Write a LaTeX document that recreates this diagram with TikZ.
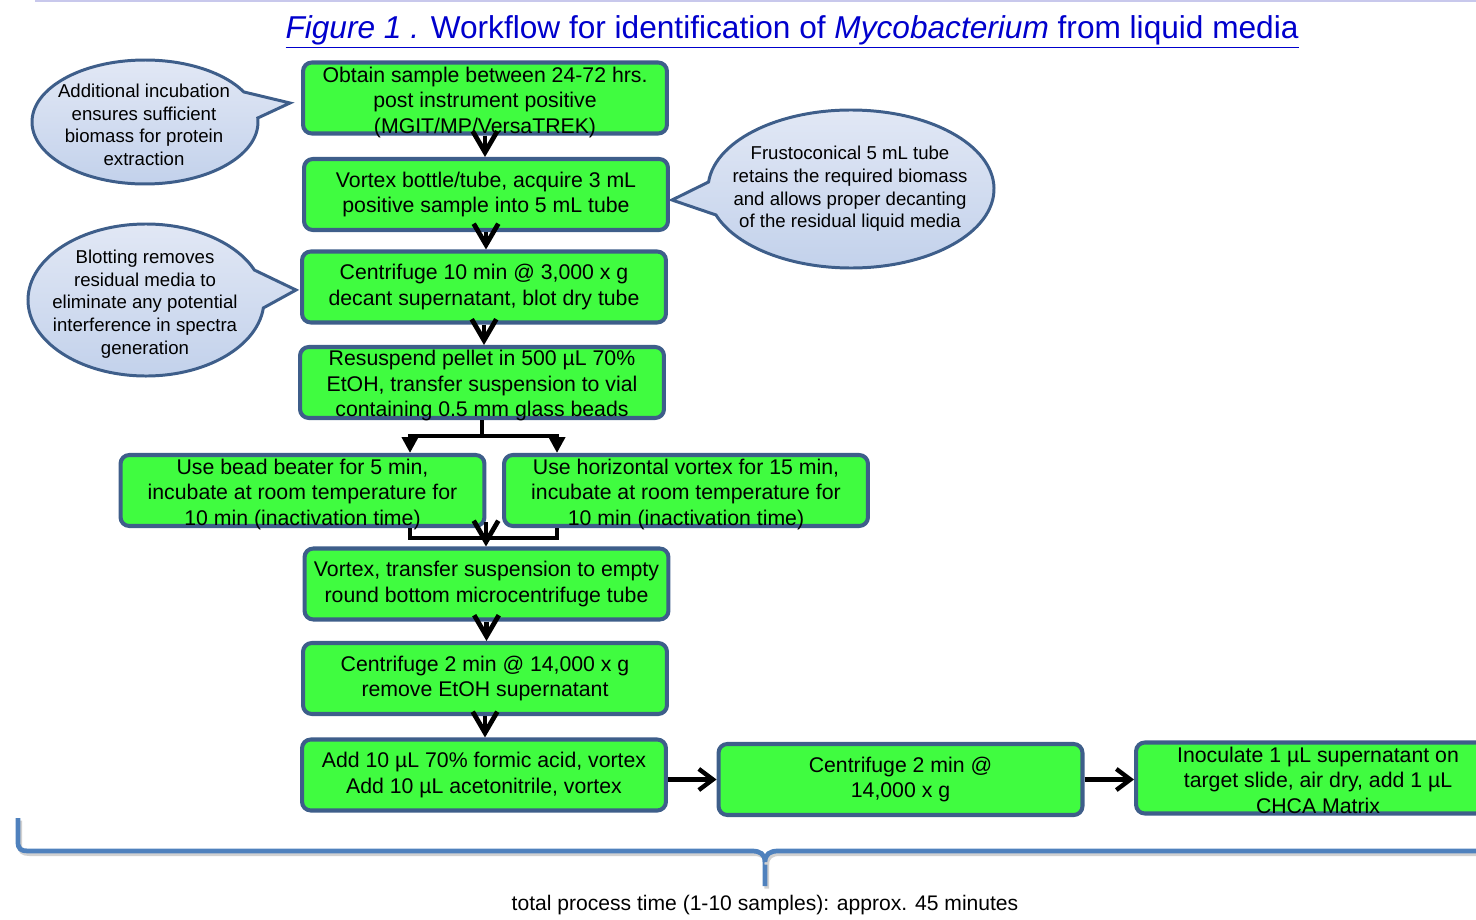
\documentclass[tikz,border=0pt]{standalone}
\usepackage{fontspec}
\setmainfont{Liberation Sans}
\usetikzlibrary{arrows.meta}
\definecolor{stepgreen}{RGB}{64,252,64}
\definecolor{stepborder}{RGB}{62,94,138}
\definecolor{notetop}{RGB}{226,232,245}
\definecolor{notebottom}{RGB}{194,209,235}
\definecolor{noteborder}{RGB}{62,94,138}
\definecolor{titleblue}{RGB}{0,0,204}
\definecolor{bracecol}{RGB}{79,129,189}
\definecolor{topline}{RGB}{200,200,236}

\begin{document}
\begin{tikzpicture}[x=0.02cm, y=-0.02cm,
    stepbox/.style={draw=stepborder, line width=2.3pt, fill=stepgreen, rounded corners=5pt,
        minimum width=7.28cm, minimum height=1.42cm, inner sep=0pt, align=center,
        font=\fontsize{12.1}{14.5}\selectfont},
    steptext/.style={inner sep=0pt, align=center, font=\fontsize{12.1}{14.5}\selectfont},
    notebubble/.style={draw=noteborder, line width=1.7pt, top color=notetop, bottom color=notebottom},
    notetext/.style={align=center, font=\fontsize{10.6}{12.9}\selectfont},
    flowarrow/.style={line width=2.7pt, -{Straight Barb[length=12pt,width=14pt]}},
    sidearrow/.style={line width=2.5pt, -{Straight Barb[length=8pt,width=12pt]}},
    forkline/.style={line width=2.3pt},
    bracepath/.style={bracecol, line width=2.7pt,
        preaction={draw=black!18, line width=2.7pt, transform canvas={xshift=1pt,yshift=-1.5pt}}}]
    \clip (0,0) rectangle (1476,919);
    \draw[topline, line width=1.2pt] (35,1) -- (1476,1);

    % title
    \node[text=titleblue, font=\fontsize{18}{21}\selectfont] (title) at (792,32)
        {\underline{\textit{Figure 1 .} Workflow for identification of \textit{Mycobacterium} from liquid media}};

    % side notes
    \draw[notebubble] (145,122) ++(-3.7:113 and 62)
        arc[start angle=-3.7, end angle=331, x radius=113, y radius=62] -- (290,103) -- cycle;
    \node[notetext] (noteA) at (144,125) {Additional incubation\\ ensures sufficient\\ biomass for protein\\ extraction};

    \draw[notebubble] (851,189) ++(185.1:143 and 79)
        arc[start angle=185.1, end angle=520.8, x radius=143, y radius=79] -- (672,200) -- cycle;
    \node[notetext] (noteB) at (850,189) {Frustoconical 5 mL tube\\ retains the required biomass\\ and allows proper decanting\\ of the residual liquid media};

    \draw[notebubble] (146,300) ++(6:118 and 76)
        arc[start angle=6, end angle=336.8, x radius=118, y radius=76] -- (296,290) -- cycle;
    \node[notetext] (noteC) at (145,304) {Blotting removes\\ residual media to\\ eliminate any potential\\ interference in spectra\\ generation};

    % steps
    \node[stepbox] (s1) at (485,98) {};
    \node[steptext] (s1text) at ([yshift=-2.3pt]s1.center) {Obtain sample between 24-72 hrs.\\ post instrument positive\\ (MGIT/MP/VersaTREK)};
    \node[stepbox] (s2) at (486,194.5) {Vortex bottle/tube, acquire 3 mL\\ positive sample into 5 mL tube};
    \node[stepbox] (s3) at (484,287) {Centrifuge 10 min @ 3,000 x g\\ decant supernatant, blot dry tube};
    \node[stepbox] (s4) at (482,382.5) {};
    \node[steptext] (s4text) at ([yshift=-1.8pt]s4.center) {Resuspend pellet in 500 µL 70\%\\ EtOH, transfer suspension to vial\\ containing 0.5 mm glass beads};
    \node[stepbox] (s5) at (302.5,490.5) {};
    \node[steptext] (s5text) at ([yshift=-2.2pt]s5.center) {Use bead beater for 5 min,\\ incubate at room temperature for\\ 10 min (inactivation time)};
    \node[stepbox] (s6) at (686,490.5) {};
    \node[steptext] (s6text) at ([yshift=-2.2pt]s6.center) {Use horizontal vortex for 15 min,\\ incubate at room temperature for\\ 10 min (inactivation time)};
    \node[stepbox] (s7) at (486.5,584) {Vortex, transfer suspension to empty\\ round bottom microcentrifuge tube};
    \node[stepbox] (s8) at (485,678.5) {Centrifuge 2 min @ 14,000 x g\\ remove EtOH supernatant};
    \node[stepbox] (s9) at (484,775) {Add 10 µL 70\% formic acid, vortex\\ Add 10 µL acetonitrile, vortex};
    \node[stepbox] (s10) at (900.5,779.5) {Centrifuge 2 min @\\ 14,000 x g};
    \node[stepbox] (s11) at (1318,778) {};
    \node[steptext] (s11text) at ([yshift=-1.2pt]s11.center) {Inoculate 1 µL supernatant on\\ target slide, air dry, add 1 µL\\ CHCA Matrix};

    % arrows
    \draw[flowarrow] (s1.south) -- (s1.south |- s2.north);
    \draw[flowarrow] (s2.south) -- (s2.south |- s3.north);
    \draw[flowarrow] (s3.south) -- (s3.south |- s4.north);

    \coordinate (forkL) at (410,436);
    \coordinate (forkR) at (557,436);
    \draw[forkline] (s4.south) -- (s4.south |- forkL);
    \draw[forkline, {Triangle[length=9pt,width=9pt]}-{Triangle[length=9pt,width=9pt]}]
        (forkL |- s5.north) -- (forkL) -- (forkR) -- (forkR |- s6.north);

    \coordinate (joinL) at (410,538);
    \coordinate (joinR) at (557,538);
    \coordinate (join) at (486,522);
    \draw[forkline] (joinL |- s5.south) -- (joinL) -- (joinR) -- (joinR |- s6.south);
    \draw[flowarrow] (join) -- (join |- s7.north);

    \draw[flowarrow] (s7.south) -- (s7.south |- s8.north);
    \draw[flowarrow] (s8.south) -- (s8.south |- s9.north);
    \draw[sidearrow] (s10.west -| s9.east) -- (s10.west);
    \draw[sidearrow] (s10.east) -- (s10.east -| s11.west);

    % brace
    \draw[bracepath] (18,818) -- (18,842) .. controls (18,849) and (21,851) .. (28,851) -- (752,851)
        .. controls (760,851) and (765,854) .. (765,862) -- (765,886);
    \draw[bracepath] (765,862) .. controls (765,854) and (770,851) .. (778,851) -- (1480,851);
    \node[font=\fontsize{12}{14}\selectfont] (total) at (765,905) {total process time (1-10 samples): approx. 45 minutes};
\end{tikzpicture}
\end{document}
